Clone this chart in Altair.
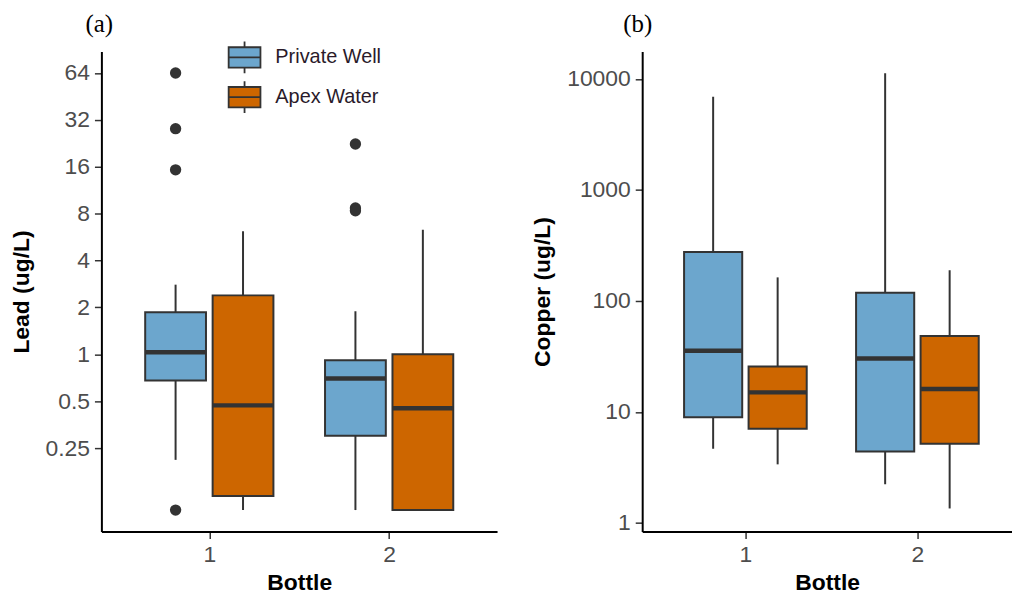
import altair as alt
import pandas as pd

# ---- data ----
sources = ["Private Well", "Apex Water", "Private Well", "Apex Water"]
bottles = [1, 1, 2, 2]

lead_lower = [0.21, 0.10, 0.10, 0.10]
lead_q1 = [0.68, 0.123, 0.30, 0.10]
lead_median = [1.03, 0.47, 0.70, 0.45]
lead_q3 = [1.86, 2.39, 0.915, 1.0]
lead_upper = [2.8, 6.16, 1.89, 6.3]

lead_out_bottle = [1, 1, 1, 1, 2, 2, 2]
lead_out_source = ["Private Well"] * 7
lead_out_value = [64, 28.1, 15.3, 0.10, 22.4, 8.7, 8.35]

cu_lower = [4.66, 3.37, 2.23, 1.35]
cu_q1 = [8.97, 7.04, 4.4, 5.16]
cu_median = [35.5, 15.0, 30.3, 16.1]
cu_q3 = [276, 25.7, 118.5, 48.3]
cu_upper = [6920, 163, 11270, 189]

lead_ticks = [0.25, 0.5, 1, 2, 4, 8, 16, 32, 64]
cu_ticks = [1, 10, 100, 1000, 10000]
x_ticks = [1, 2]

color_domain = ["Private Well", "Apex Water"]
color_range = ["#6CA6CD", "#CD6600"]

lead_df = pd.DataFrame({"source": sources, "bottle": bottles, "lower": lead_lower,
                        "q1": lead_q1, "median": lead_median, "q3": lead_q3, "upper": lead_upper})
lead_out = pd.DataFrame({"source": lead_out_source, "bottle": lead_out_bottle, "value": lead_out_value})
cu_df = pd.DataFrame({"source": sources, "bottle": bottles, "lower": cu_lower,
                      "q1": cu_q1, "median": cu_median, "q3": cu_q3, "upper": cu_upper})

DARK = "#333333"
LEGEND_PATH = "M-1,-0.64H1V0.64H-1Z M-1,0H1 M0,-0.64V-1 M0,0.64V1"


def panel(df, out_df, ytitle, ydomain, ybase, yvalues, xdomain, width, label, title_dx, show_legend):
    xcalc = "datum.bottle + (datum.source === 'Private Well' ? -0.1875 : 0.1875)"
    xscale = alt.Scale(domain=xdomain, nice=False, zero=False)
    yscale = alt.Scale(type="log", base=ybase, domain=ydomain, nice=False)
    xaxis = alt.Axis(values=x_ticks, format="d", title="Bottle", titlePadding=5)
    yaxis = alt.Axis(values=yvalues, format="~g", title=ytitle, titlePadding=12)

    base = alt.Chart(df).transform_calculate(xc=xcalc).transform_calculate(
        xl="datum.xc - 0.169", xr="datum.xc + 0.169")

    whisk = base.mark_rule(color=DARK, strokeWidth=2).encode(
        x=alt.X("xc:Q", scale=xscale, axis=xaxis, title="Bottle"),
        y=alt.Y("lower:Q", scale=yscale, axis=yaxis, title=ytitle),
        y2="upper:Q",
    )
    if show_legend:
        legend = alt.Legend(title=None, orient="none", legendX=127, legendY=-11,
                            symbolType=LEGEND_PATH, symbolSize=1024,
                            symbolStrokeColor=DARK, symbolStrokeWidth=1.8,
                            labelFontSize=20, labelFont="Liberation Sans", labelColor="#2a1a2a",
                            labelOffset=14, rowPadding=0, padding=0)
    else:
        legend = None
    color = alt.Color("source:N", scale=alt.Scale(domain=color_domain, range=color_range),
                      legend=legend)
    box = base.mark_rect(stroke=DARK, strokeWidth=2).encode(
        x=alt.X("xl:Q", scale=xscale, title="Bottle"),
        x2="xr:Q",
        y=alt.Y("q1:Q", scale=yscale, title=ytitle),
        y2="q3:Q",
        fill=color,
    )
    med = base.mark_rule(color=DARK, strokeWidth=4.5).encode(
        x=alt.X("xl:Q", scale=xscale, title="Bottle"),
        x2="xr:Q",
        y=alt.Y("median:Q", scale=yscale, title=ytitle),
    )
    layers = [whisk, box, med]
    if out_df is not None:
        pts = alt.Chart(out_df).transform_calculate(xc=xcalc).mark_circle(
            color=DARK, size=130, opacity=1).encode(
            x=alt.X("xc:Q", scale=xscale, title="Bottle"),
            y=alt.Y("value:Q", scale=yscale, title=ytitle),
        )
        layers.append(pts)
    return alt.layer(*layers).properties(
        width=width, height=483,
        title=alt.TitleParams(text=label, anchor="start", frame="group", dx=title_dx,
                              font="Liberation Serif", fontSize=25, fontWeight="normal",
                              color="black", offset=15),
    )


left = panel(lead_df, lead_out, "Lead (ug/L)", [0.0727, 88], 2, lead_ticks,
             [0.4, 2.6], 398, "(a)", -16, True)
right = panel(cu_df, None, "Copper (ug/L)", [0.835, 17680], 10, cu_ticks,
              [0.4, 2.55], 372, "(b)", -19, False)

chart = alt.hconcat(left, right, spacing=35).resolve_scale(
    color="shared").resolve_legend(color="independent").properties(
    padding={"left": 10, "top": 10, "right": 0, "bottom": 0},
    background="white",
).configure_view(stroke=None).configure_axis(
    grid=False,
    domainColor="black", domainWidth=2,
    tickColor=DARK, tickWidth=1.5, tickSize=7,
    labelFont="Liberation Sans", labelFontSize=23, labelColor="#4D4D4D", labelPadding=5,
    titleFont="Liberation Sans", titleFontSize=23, titleFontWeight="bold", titleColor="black",
)

chart.save("out.html", embed_options={"renderer": "svg", "actions": False})
